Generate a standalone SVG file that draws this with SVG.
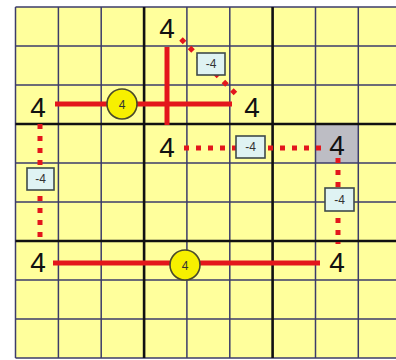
<svg xmlns="http://www.w3.org/2000/svg" width="396" height="360" viewBox="0 0 396 360">
<style>
.thin{stroke:#3c3c6a;stroke-width:1.5;fill:none}
.thick{stroke:#111;stroke-width:2.6;fill:none}
.solid{stroke:#e3161c;stroke-width:5;fill:none}
.dot{stroke:#e3161c;stroke-width:5;fill:none;stroke-dasharray:5 7}
.big{font-family:"Liberation Sans",Arial,sans-serif;font-size:28px;fill:#111;text-anchor:middle}
.lbl{fill:#dff3f3;stroke:#3f4a4a;stroke-width:1.6}
.lt{font-family:"Liberation Sans",Arial,sans-serif;font-size:12px;fill:#333;text-anchor:middle}
.circ{fill:#f7f000;stroke:#4a4a2a;stroke-width:1.6}
</style>
<rect width="396" height="360" fill="#fff"/>
<rect x="15.5" y="7" width="381" height="351" fill="#ffff9c"/>
<rect x="315.5" y="124" width="42.8" height="39" fill="#bdbdc4"/>
<g id="grid">
<path class="thin" d="M58.4 7V358M101.2 7V358M186.9 7V358M229.8 7V358M315.5 7V358M358.3 7V358M15.5 46H396M15.5 85H396M15.5 163H396M15.5 202H396M15.5 280H396M15.5 319H396"/>
<path class="thin" d="M15.5 7V358M15.5 7H396M15.5 358H396"/>
<path class="thick" d="M144.1 7V358M272.6 7V358M15.5 124H396M15.5 241H396"/>
</g>
<g id="connectors">
<path class="solid" d="M55 104H232"/>
<path class="solid" d="M167 47V125"/>
<path class="solid" d="M53 263H320"/>
<path class="dot" d="M181 39L238 96"/>
<path class="dot" d="M184 148H326"/>
<path class="dot" d="M338 158V244"/>
<path class="dot" d="M40 124V241"/>
</g>
<g id="n1"><text class="big" x="167" y="38">4</text></g>
<g id="n2"><text class="big" x="38" y="117">4</text></g>
<g id="n3"><text class="big" x="252" y="117">4</text></g>
<g id="n4"><text class="big" x="167" y="157">4</text></g>
<g id="n5"><text class="big" x="337" y="155">4</text></g>
<g id="n6"><text class="big" x="38" y="272">4</text></g>
<g id="n7"><text class="big" x="337" y="272">4</text></g>
<g id="c1"><circle class="circ" cx="122" cy="104" r="15"/><text class="lt" x="122" y="108.5">4</text></g>
<g id="c2"><circle class="circ" cx="185" cy="265" r="15"/><text class="lt" x="185" y="269.5">4</text></g>
<g id="b1"><rect class="lbl" x="197" y="53" width="28" height="22"/><text class="lt" x="211" y="68">-4</text></g>
<g id="b2"><rect class="lbl" x="236" y="136" width="29" height="22"/><text class="lt" x="250.5" y="151">-4</text></g>
<g id="b3"><rect class="lbl" x="325" y="188" width="29" height="23"/><text class="lt" x="339.5" y="203.5">-4</text></g>
<g id="b4"><rect class="lbl" x="27" y="168" width="27" height="22"/><text class="lt" x="40.5" y="183">-4</text></g>
</svg>
